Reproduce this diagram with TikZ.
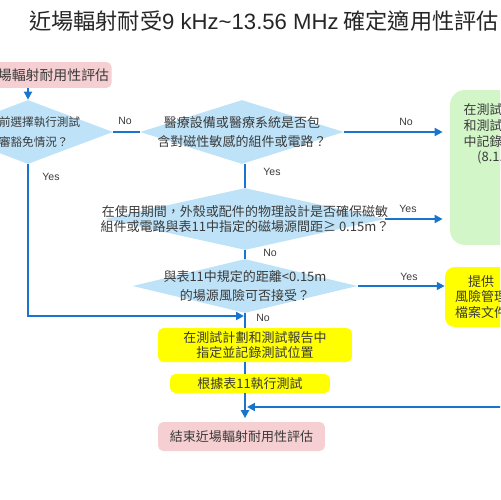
\documentclass[tikz,border=0pt]{standalone}
\usepackage{fontspec}
\setmainfont{Noto Sans CJK TC}
\newfontfamily\latinfont{Liberation Sans}
\usetikzlibrary{arrows.meta,shapes.geometric,calc}
\definecolor{fc-blue}{HTML}{1874CD}
\definecolor{fc-decision}{HTML}{BEE3F8}
\definecolor{fc-pink}{HTML}{F5CFD1}
\definecolor{fc-green}{HTML}{D3F6C9}
\definecolor{fc-yellow}{HTML}{FFFF00}
\definecolor{fc-text}{HTML}{3A3A3A}

\begin{document}
\begin{tikzpicture}[x=0.02cm, y=-0.02cm,
    flow/.style={draw=fc-blue, line width=1.1pt},
    arr/.style={flow, -{Triangle[length=4.5pt,width=4.5pt]}},
    decision/.style={diamond, fill=fc-decision, inner sep=0pt},
    dtext/.style={text=fc-text, align=center, inner sep=0pt, font=\fontsize{7.4}{11.3}\selectfont},
    tag/.style={text=fc-text, inner sep=0pt, font=\latinfont\fontsize{6}{7}\selectfont},
    box/.style={rounded corners=3pt, inner sep=0pt, text=fc-text, align=center, font=\fontsize{7.4}{9}\selectfont}]
    \useasboundingbox (0,0) rectangle (500,500);
    \clip (0,0) rectangle (500,500);

    \node[anchor=west, inner sep=0pt, text=black!85, font=\fontsize{12.6}{14}\selectfont] (title) at (29,21)
        {近場輻射耐受{\latinfont 9 kHz\textasciitilde13.56 MHz} 確定適用性評估};

    \node[box, fill=fc-pink, anchor=east, inner xsep=1.5pt, minimum height=0.52cm,
        font=\fontsize{7.9}{9}\selectfont] (start) at (112,75) {開始近場輻射耐用性評估};

    \node[decision, minimum width=3.4cm, minimum height=1.28cm,
        label={[dtext, font=\fontsize{6.6}{11.3}\selectfont]center:於事前選擇執行測試\\或審豁免情況？}] (d1) at (28,132) {};
    \node[decision, minimum width=4.08cm, minimum height=1.28cm,
        label={[dtext]center:醫療設備或醫療系統是否包\\含對磁性敏感的組件或電路？}] (d2) at (242,132) {};
    \node[decision, minimum width=5.6cm, minimum height=1.24cm,
        label={[dtext, font=\fontsize{7.4}{8.6}\selectfont]center:在使用期間，外殼或配件的物理設計是否確保磁敏\\組件或電路與表11中指定的磁場源間距≥ 0.15m？}] (d3) at (245,219) {};
    \node[decision, minimum width=4.5cm, minimum height=1.08cm,
        label={[dtext]center:與表11中規定的距離<0.15m\\的場源風險可否接受？}] (d4) at (245,286) {};

    \node[box, fill=fc-green, rounded corners=8.5pt, minimum width=1.84cm, minimum height=3.1cm] (doc) at (496,167.5) {};
    \node[dtext, font=\fontsize{7.4}{9}\selectfont] (doctext) at (496,134) {在測試計劃\\和測試報告\\中記錄豁免\\(8.1.1)};
    \node[box, fill=fc-yellow, rounded corners=5.5pt, minimum width=1.44cm, minimum height=1.2cm] (risk) at (481,297) {提供\\風險管理\\檔案文件};

    \node[box, fill=fc-yellow, minimum width=3.88cm, minimum height=0.68cm] (rec) at (255,345) {在測試計劃和測試報告中\\指定並記錄測試位置};
    \node[box, fill=fc-yellow, minimum width=3.2cm, minimum height=0.38cm] (test) at (250,383.5) {根據表11執行測試};
    \node[box, fill=fc-pink, minimum width=3.34cm, minimum height=0.58cm] (finish) at (241.5,436.5) {結束近場輻射耐用性評估};

    \draw[arr] (d1.north |- start.south) -- (d1.north);
    \draw[flow] (d1.east) -- (d2.west);
    \draw[arr, shorten >=4pt] (d2.east) -- (d2.east -| doc.west);
    \draw[flow] (d3.north |- d2.south) -- (d3.north);
    \draw[arr, shorten >=4pt] (d3.east) -- (d3.east -| doc.west);
    \draw[flow] (d3.south) -- (d4.north);
    \draw[arr] (d4.east) -- (d4.east -| risk.west);
    \draw[flow] (d4.south) -- (d4.south |- rec.north);
    \coordinate (merge) at (244,316);
    \draw[arr] (d1.south) |- (merge);
    \draw[flow] (d4.south |- rec.south) -- (d4.south |- test.north);
    \coordinate (back) at (540,407);
    \draw[arr] (back) -- ($(d4.south |- back)+(2,0)$);
    \draw[arr, shorten >=2pt] (d4.south |- test.south) -- (d4.south |- finish.north);

    \node[tag] (no1) at (125,121) {No};
    \node[tag] (yes1) at (51,177) {Yes};
    \node[tag] (no2) at (406,122) {No};
    \node[tag] (yes2) at (272,172) {Yes};
    \node[tag] (yes3) at (408,209) {Yes};
    \node[tag] (no3) at (270,253) {No};
    \node[tag] (yes4) at (409,277) {Yes};
    \node[tag] (no4) at (263,318) {No};
\end{tikzpicture}
\end{document}
